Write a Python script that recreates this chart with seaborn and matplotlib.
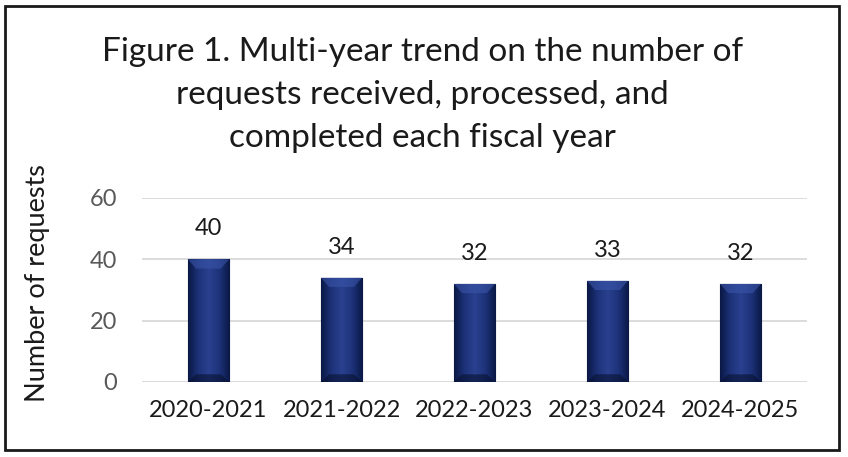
import numpy as np
import pandas as pd
import matplotlib
matplotlib.use("Agg")
import matplotlib.pyplot as plt
import seaborn as sns
from matplotlib.patches import Rectangle
from matplotlib.colors import LinearSegmentedColormap

# data
years = ["2020-2021", "2021-2022", "2022-2023", "2023-2024", "2024-2025"]
requests = [40, 34, 32, 33, 32]

title = ("Figure 1. Multi-year trend on the number of\n"
         "requests received, processed, and\n"
         "completed each fiscal year")

sns.set_style("white")
plt.rcParams["font.family"] = ["Lato", "DejaVu Sans"]

df = pd.DataFrame({"year": years, "requests": requests})

fig = plt.figure(figsize=(8.48, 4.57), dpi=100)
ax = fig.add_axes([142 / 848, 1 - 382 / 457, 665 / 848, 184 / 457])

sns.barplot(data=df, x="year", y="requests", color="#1b2d6b", width=0.31,
            ax=ax, zorder=3)

# bevel-ish shading on the bars
cmap = LinearSegmentedColormap.from_list(
    "bev", ["#0a1845", "#1d3279", "#2a4190", "#1d3279", "#0a1845"])
grad = np.linspace(0, 1, 100).reshape(1, -1)
for p in ax.patches:
    x0, y0 = p.get_x(), p.get_y()
    w, h = p.get_width(), p.get_height()
    im = ax.imshow(grad, cmap=cmap, aspect="auto", extent=(x0, x0 + w, y0, y0 + h),
                   zorder=4)
    im.set_clip_path(p)
    p.set_edgecolor("#08123a")
    p.set_linewidth(0.8)
    # lighter top facet and darker bottom facet
    ax.fill([x0, x0 + w, x0 + w * 0.8, x0 + w * 0.2], [y0 + h, y0 + h, y0 + h - 3, y0 + h - 3],
            color="#3a55a8", alpha=0.6, zorder=5, lw=0)
    ax.fill([x0, x0 + w, x0 + w * 0.8, x0 + w * 0.2], [y0, y0, y0 + 2.5, y0 + 2.5],
            color="#07112f", alpha=0.6, zorder=5, lw=0)
    ax.annotate(f"{int(round(h))}", (x0 + w / 2, h), xytext=(0, 22),
                textcoords="offset points", ha="center", va="center",
                fontsize=17, color="#1a1a1a")

ax.set_xlim(-0.5, len(years) - 0.5)
ax.set_ylim(0, 60)
ax.set_yticks([0, 20, 40, 60])
ax.yaxis.grid(True, color="#d9d9d9", linewidth=1.3, zorder=0)
ax.xaxis.grid(False)
sns.despine(ax=ax, left=True, bottom=True)
ax.tick_params(axis="y", length=0, pad=18, labelsize=17, labelcolor="#595959")
ax.tick_params(axis="x", length=0, pad=13, labelsize=17, labelcolor="#1a1a1a")
ax.set_xlabel("")
ax.set_ylabel("Number of requests", fontsize=19.5, color="#1a1a1a")
ax.yaxis.set_label_coords(-0.139, 0.54)

fig.text(0.498, 1 - 95 / 457, title, ha="center", va="center", fontsize=24,
         linespacing=1.56, color="#1a1a1a")

fig.patches.append(Rectangle((5 / 848, 1 - 450 / 457), 834 / 848, 444 / 457,
                             transform=fig.transFigure, fill=False,
                             edgecolor="#1a1a1a", linewidth=2))

fig.savefig("out.png", dpi=100)
